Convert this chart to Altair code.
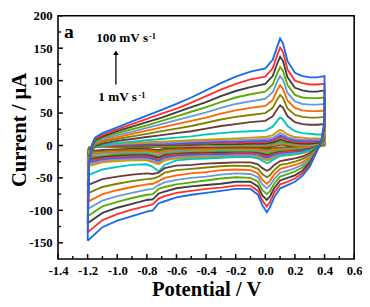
import altair as alt
import pandas as pd

# ---------------- data ----------------
x_up = [-1.2, -1.19, -1.17, -1.15, -1.1, -1.0, -0.9, -0.8, -0.7, -0.6, -0.5, -0.4, -0.3,
        -0.2, -0.1, 0.0, 0.05, 0.08, 0.1, 0.12, 0.15, 0.2, 0.25, 0.3, 0.35, 0.4]
x_down = [0.4, 0.38, 0.35, 0.3, 0.25, 0.2, 0.15, 0.1, 0.06, 0.03, 0.01, -0.02, -0.05, -0.1,
          -0.2, -0.3, -0.4, -0.5, -0.6, -0.68, -0.72, -0.76, -0.8, -0.9, -1.0, -1.1, -1.2]

up_100 = [-147, -30, 2, 12, 19, 28, 37, 46, 55, 64, 74, 85, 96, 106, 114, 119, 132, 152, 165, 157, 130, 112, 107, 105, 105, 107]
dn_100 = [40, 10, -8, -33, -47, -56, -61, -66, -80, -96, -103, -92, -76, -67, -67, -70, -73, -76, -80, -86, -89, -100, -102, -109, -116, -126, -147]
up_90 = [-134, -28, 0, 10, 16, 25, 33, 41, 49, 57, 66, 76, 86, 95, 102, 106, 119, 139, 151, 144, 117, 100, 96, 94, 94, 95]
dn_90 = [34, 8, -8, -30, -43, -51, -56, -60, -73, -88, -94, -85, -70, -62, -62, -65, -67, -70, -73, -78, -82, -91, -93, -99, -106, -115, -134]
up_80 = [-120, -26, -2, 8, 14, 22, 29, 36, 43, 51, 59, 67, 76, 84, 90, 95, 107, 126, 137, 130, 105, 89, 85, 83, 83, 85]
dn_80 = [30, 6, -7, -27, -39, -46, -50, -54, -66, -79, -84, -77, -63, -56, -56, -59, -61, -63, -66, -71, -74, -83, -84, -90, -96, -104, -120]
up_70 = [-109, -24, -3, 6, 12, 19, 25, 31, 38, 45, 52, 59, 67, 74, 79, 83, 94, 111, 121, 115, 93, 78, 74, 73, 73, 74]
dn_70 = [26, 5, -7, -24, -34, -40, -44, -48, -59, -71, -75, -69, -56, -50, -49, -51, -54, -57, -60, -64, -67, -75, -76, -81, -87, -94, -109]
up_60 = [-98, -22, -4, 4, 10, 16, 21, 27, 33, 39, 45, 51, 58, 64, 68, 72, 82, 98, 107, 101, 81, 68, 64, 63, 63, 64]
dn_60 = [22, 4, -6, -21, -30, -35, -39, -42, -52, -62, -66, -60, -49, -44, -43, -45, -48, -50, -53, -57, -61, -67, -68, -73, -78, -85, -98]
up_50 = [-87, -20, -5, 3, 8, 13, 18, 23, 28, 33, 38, 43, 49, 54, 58, 61, 70, 85, 93, 87, 69, 58, 54, 53, 53, 54]
dn_50 = [18, 3, -6, -18, -26, -30, -33, -36, -45, -55, -59, -53, -43, -38, -37, -38, -41, -43, -46, -50, -55, -59, -60, -64, -69, -75, -87]
up_40 = [-74, -18, -6, 1, 6, 10, 14, 18, 22, 26, 30, 35, 40, 44, 47, 50, 58, 71, 78, 73, 57, 47, 44, 43, 43, 44]
dn_40 = [14, 2, -5, -15, -21, -25, -28, -30, -38, -46, -49, -44, -36, -32, -31, -32, -34, -36, -38, -42, -48, -51, -52, -55, -59, -64, -74]
up_30 = [-61, -16, -7, -1, 3, 7, 10, 13, 16, 19, 22, 26, 30, 33, 36, 38, 45, 56, 62, 58, 45, 36, 33, 32, 32, 33]
dn_30 = [11, 1, -4, -12, -17, -20, -22, -24, -30, -37, -39, -35, -29, -26, -26, -27, -28, -30, -31, -35, -42, -44, -43, -45, -48, -52, -61]
up_20 = [-46, -14, -8, -3, 0, 4, 6, 8, 10, 12, 14, 17, 19, 21, 22, 23, 29, 38, 43, 40, 30, 22, 19, 18, 17, 17]
dn_20 = [8, 0, -3, -8, -11, -13, -14, -16, -21, -26, -27, -24, -20, -18, -18, -19, -20, -21, -23, -30, -40, -33, -29, -30, -33, -37, -46]

up_10 = [-32, -10, -5, -2, 1, 3, 4, 5, 6, 7, 8, 9, 10, 11, 12, 13, 16, 21, 24, 22, 17, 13, 12, 11, 11, 11]
dn_10 = [5, 0, -4, -9, -12, -14, -15, -16, -19, -22, -23, -21, -18, -17, -17, -17, -18, -19, -20, -23, -29, -26, -23, -23, -24, -26, -32]
up_9 = [-29, -9, -5, -2, 0, 2, 3, 4, 4, 5, 6, 7, 8, 8, 9, 10, 12, 16, 19, 17, 13, 10, 9, 9, 9, 9]
dn_9 = [4, 0, -4, -8, -11, -12, -13, -14, -17, -20, -21, -19, -16, -15, -15, -16, -16, -17, -18, -21, -27, -24, -21, -21, -22, -24, -29]
up_8 = [-27, -8, -4, -2, 0, 1, 2, 2, 3, 3, 4, 5, 6, 6, 7, 7, 9, 13, 15, 14, 11, 8, 7, 7, 7, 8]
dn_8 = [4, 0, -3, -7, -9, -11, -12, -13, -15, -18, -19, -17, -15, -14, -14, -14, -15, -15, -16, -19, -24, -21, -19, -19, -20, -22, -27]
up_7 = [-24, -7, -4, -2, -1, 0, 1, 1, 2, 2, 3, 3, 4, 4, 5, 5, 7, 10, 12, 11, 9, 6, 5, 5, 6, 7]
dn_7 = [3, 0, -3, -6, -8, -9, -10, -11, -13, -16, -17, -15, -13, -12, -12, -13, -13, -14, -14, -17, -22, -19, -17, -17, -18, -20, -24]
up_6 = [-22, -6, -3, -2, -1, 0, 0, 0, 1, 1, 1, 2, 2, 2, 3, 3, 5, 7, 9, 8, 6, 4, 3, 3, 4, 5]
dn_6 = [3, 0, -2, -5, -7, -8, -9, -10, -12, -14, -15, -13, -12, -11, -11, -11, -12, -12, -13, -15, -19, -17, -15, -15, -16, -18, -22]
up_5 = [-19, -5, -3, -2, -1, -1, 0, 0, 0, 0, 1, 1, 1, 1, 2, 2, 3, 5, 6, 5, 4, 2, 2, 2, 3, 4]
dn_5 = [3, 0, -2, -4, -6, -7, -8, -8, -10, -12, -13, -12, -10, -10, -10, -10, -10, -11, -11, -13, -17, -15, -13, -13, -14, -16, -19]
up_4 = [-17, -4, -3, -2, -1, -1, -1, -1, 0, 0, 0, 0, 0, 1, 1, 1, 2, 3, 4, 4, 3, 1, 1, 1, 2, 3]
dn_4 = [2, 0, -2, -4, -5, -6, -7, -7, -9, -10, -11, -10, -9, -8, -8, -8, -9, -9, -9, -11, -14, -13, -11, -11, -12, -13, -17]
up_3 = [-14, -4, -2, -2, -2, -1, -1, -1, -1, -1, -1, -1, 0, 0, 0, 0, 1, 2, 3, 3, 2, 0, 0, 0, 1, 2]
dn_3 = [2, 0, -1, -3, -4, -5, -5, -6, -7, -8, -9, -8, -7, -7, -7, -7, -7, -7, -8, -9, -12, -10, -9, -9, -10, -11, -14]
up_2 = [-11, -3, -2, -2, -2, -2, -2, -2, -2, -2, -1, -1, -1, -1, -1, -1, 0, 1, 2, 2, 1, 0, -1, -1, 0, 1]
dn_2 = [1, 0, -1, -2, -3, -4, -4, -4, -5, -6, -7, -6, -5, -5, -5, -5, -5, -6, -6, -7, -9, -8, -7, -7, -8, -9, -11]
up_1 = [-9, -3, -2, -2, -2, -2, -2, -2, -2, -2, -2, -2, -2, -2, -2, -2, -1, 0, 1, 1, 0, -1, -1, -1, 0, 0]
dn_1 = [1, 0, -1, -2, -2, -3, -3, -3, -4, -4, -5, -4, -4, -4, -4, -4, -4, -4, -4, -5, -7, -6, -5, -5, -6, -7, -9]

# drawn from the smallest scan rate to the largest (largest on top)
series_names = ["1", "2", "3", "4", "5", "6", "7", "8", "9", "10",
                "20", "30", "40", "50", "60", "70", "80", "90", "100"]
series_up = [up_1, up_2, up_3, up_4, up_5, up_6, up_7, up_8, up_9, up_10,
             up_20, up_30, up_40, up_50, up_60, up_70, up_80, up_90, up_100]
series_dn = [dn_1, dn_2, dn_3, dn_4, dn_5, dn_6, dn_7, dn_8, dn_9, dn_10,
             dn_20, dn_30, dn_40, dn_50, dn_60, dn_70, dn_80, dn_90, dn_100]
series_colors = ["#6b3a3a", "#808000", "#ff6600", "#6a9ad4", "#5cab00", "#3f3f3f", "#ff3030",
                 "#1a6be6", "#a77fd8", "#c89b00",
                 "#00c5c5", "#6b3a3a", "#808000", "#ff6600", "#6a9ad4", "#5cab00",
                 "#3f3f3f", "#ff3030", "#1a6be6"]

x_major = [-1.4, -1.2, -1.0, -0.8, -0.6, -0.4, -0.2, 0.0, 0.2, 0.4, 0.6]
x_minor = [-1.3, -1.1, -0.9, -0.7, -0.5, -0.3, -0.1, 0.1, 0.3, 0.5]
y_major = [-150, -100, -50, 0, 50, 100, 150, 200]
y_minor = [-125, -75, -25, 25, 75, 125, 175]

rows = []
for name, up, dn in zip(series_names, series_up, series_dn):
    pts = list(zip(x_up, up)) + list(zip(x_down, dn))
    for i, (xv, yv) in enumerate(pts):
        rows.append({"rate": name, "i": i, "x": xv, "y": yv})
df = pd.DataFrame(rows)

X_DOM = [-1.4, 0.6]
Y_DOM = [-175, 200]
W, H = 302, 248
FONT = "Liberation Serif"


def xs():
    return alt.Scale(domain=X_DOM, nice=False, zero=False)


def ys():
    return alt.Scale(domain=Y_DOM, nice=False, zero=False)


def X(field="x"):
    return alt.X(f"{field}:Q", scale=xs(), axis=None)


def Y(field="y"):
    return alt.Y(f"{field}:Q", scale=ys(), axis=None)


x_lab = "datum.value < 0 ? '-' + format(-datum.value, '.1f') : format(datum.value, '.1f')"
y_lab = "datum.value < 0 ? '-' + format(-datum.value, 'd') : format(datum.value, 'd')"

lines = alt.Chart(df).mark_line(strokeWidth=1.9, clip=True).encode(
    x=alt.X("x:Q", scale=xs(), axis=alt.Axis(
        title="Potential / V", values=x_major, labelExpr=x_lab, ticks=False, domain=False,
        grid=False, labelPadding=6, labelOverlap=False, labelFlush=False,
        titleFontSize=21, titleY=37, titleBaseline="alphabetic")),
    y=alt.Y("y:Q", scale=ys(), axis=alt.Axis(
        title="Current / μA", values=y_major, labelExpr=y_lab, ticks=False, domain=False,
        grid=False, labelPadding=6, labelOverlap=False, labelFlush=False,
        titleFontSize=21, titleX=-39, titleY=116,
        titleBaseline="middle", titleAngle=-90, titleAlign="center")),
    color=alt.Color("rate:N", scale=alt.Scale(domain=series_names, range=series_colors), legend=None),
    order=alt.Order("i:Q"),
)

# inward tick marks placed through the (identical) scales
xt_major = alt.Chart(pd.DataFrame({"x": x_major})).mark_rule(color="black", strokeWidth=1.5).encode(
    x=X(), y=alt.value(H), y2=alt.value(H - 5))
xt_minor = alt.Chart(pd.DataFrame({"x": x_minor})).mark_rule(color="black", strokeWidth=1.4).encode(
    x=X(), y=alt.value(H), y2=alt.value(H - 3))
yt_major = alt.Chart(pd.DataFrame({"y": y_major})).mark_rule(color="black", strokeWidth=1.5).encode(
    y=Y(), x=alt.value(0), x2=alt.value(5))
yt_minor = alt.Chart(pd.DataFrame({"y": y_minor})).mark_rule(color="black", strokeWidth=1.4).encode(
    y=Y(), x=alt.value(0), x2=alt.value(3))

arrow_df = pd.DataFrame({"x": [-1.009], "y": [94], "y2": [141]})
arrow = alt.Chart(arrow_df).mark_rule(color="black", strokeWidth=1.3).encode(
    x=X(), y=Y(), y2="y2:Q")

head_df = pd.DataFrame({"x": [-1.009], "y": [143]})
head = alt.Chart(head_df).mark_point(shape="triangle-up", filled=True, color="black",
                                     size=30, opacity=1).encode(x=X(), y=Y())

big_text_df = pd.DataFrame({"x": [-1.142, -1.128], "y": [159, 68],
                            "t": ["100 mV s", "1 mV s"]})
big_text = alt.Chart(big_text_df).mark_text(
    font=FONT, fontWeight="bold", fontSize=13.5, align="left", baseline="alphabetic",
    color="black").encode(x=X(), y=Y(), text="t:N")

sup_df = pd.DataFrame({"x": [-0.785, -0.857], "y": [164, 73], "t": ["-1", "-1"]})
sup_text = alt.Chart(sup_df).mark_text(
    font=FONT, fontWeight="bold", fontSize=8.5, align="left", baseline="alphabetic",
    color="black").encode(x=X(), y=Y(), text="t:N")

a_df = pd.DataFrame({"x": [-1.36], "y": [166], "t": ["a"]})
a_text = alt.Chart(a_df).mark_text(
    font=FONT, fontWeight="bold", fontSize=20, align="left", baseline="alphabetic",
    color="black").encode(x=X(), y=Y(), text="t:N")

chart = alt.layer(
    lines, xt_major, xt_minor, yt_major, yt_minor, arrow, head, big_text, sup_text, a_text
).resolve_scale(
    x="independent", y="independent"
).properties(
    width=W, height=H,
    autosize=alt.AutoSizeParams(type="none"),
    padding={"left": 51, "top": 5, "right": 8, "bottom": 43},
).configure_view(
    stroke="black", strokeWidth=1.6
).configure_axis(
    labelFont=FONT, labelFontWeight="bold", labelFontSize=13, labelColor="black",
    titleFont=FONT, titleFontWeight="bold", titleColor="black",
)

chart.save("out.html", embed_options={"renderer": "svg", "actions": False})
